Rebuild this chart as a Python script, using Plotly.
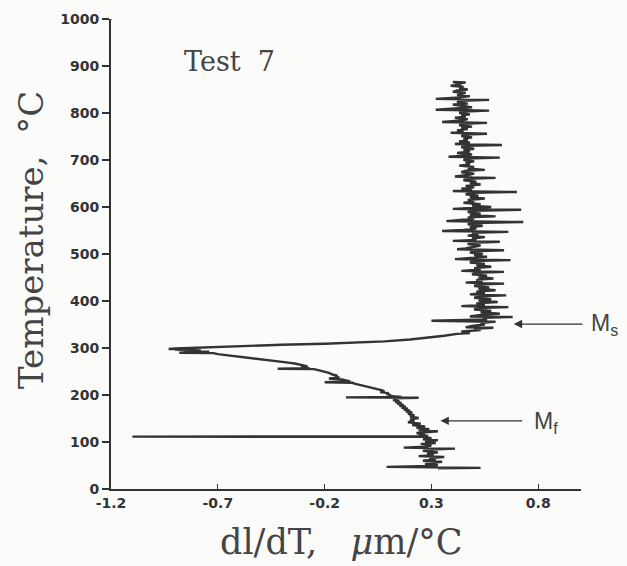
import plotly.graph_objects as go

# Test 7 cooling trace (temperature in degC, dl/dT in um/degC)
temp = [866, 865, 863, 861, 858, 856, 853, 850, 848, 845, 843, 840, 838, 836, 833, 830, 829, 828, 826, 823,
        820, 818, 815, 812, 810, 807, 806, 805, 803, 800, 797, 795, 792, 790, 787, 784, 781, 780, 779, 777,
        774, 771, 769, 766, 763, 760, 758, 757, 756, 754, 751, 748, 745, 742, 740, 737, 734, 733, 732, 730,
        727, 724, 721, 718, 715, 712, 709, 707, 706, 705, 703, 700,
        697, 694, 691, 688, 685, 682, 679, 677, 674, 671, 668, 665, 663, 662, 660, 657, 654, 651, 648, 645,
        642, 639, 636, 634, 633, 632, 630, 627, 624, 621, 618, 615, 612, 609, 606, 603, 600, 598, 596, 595,
        594, 592, 589, 586, 583, 580, 578, 575, 572, 570, 569, 568, 566, 563, 560, 557, 554, 551, 549, 548,
        547, 545, 542, 539, 536, 533, 530, 528, 527, 526, 524, 521, 518, 515, 512, 510, 509, 508, 506,
        503, 500, 497, 494, 491, 489, 488, 487, 485, 482, 479, 476, 473, 470, 467, 464, 463, 462, 460, 457,
        454, 451, 448, 445, 442, 439, 438, 437, 435, 432, 429, 426, 423, 420, 417, 414, 413, 412, 410, 407,
        404, 401, 398, 395, 392, 389, 388, 387, 385, 382, 379, 376, 373, 370, 367, 366, 364, 361, 358, 357,
        356, 353, 350, 347, 344, 343, 341, 338, 335, 332, 330,
        326, 322, 318, 314, 311, 309, 307, 305, 303, 301, 299, 298,
        297, 296, 295, 293, 292, 290, 289, 287, 285, 283, 281, 279, 277, 275, 273, 271, 269, 267, 265, 263,
        261, 259, 257, 256, 255, 253, 251, 249, 247, 245, 243, 241, 239, 237, 235, 233, 231, 229, 227, 226,
        224, 222, 220, 218, 216, 214, 212, 210, 208, 206, 204, 202, 200, 198, 196, 195, 194, 193, 191, 189,
        187, 185, 183, 181, 179, 177, 175, 173, 171, 169, 167, 165, 163, 160, 157, 154, 151, 148, 145, 142,
        139, 136, 133, 130, 127, 125, 123, 121, 119, 117, 115, 113, 112, 111.5, 111, 108, 106, 104, 102, 100,
        98, 96, 93, 90, 88, 87, 86, 84, 81, 78, 75, 72, 70, 68, 66, 63, 60, 58, 56, 53,
        51, 49, 47, 46, 45, 44]
dldt = [0.40, 0.46, 0.41, 0.44, 0.39, 0.45, 0.43, 0.47, 0.42, 0.40, 0.46, 0.44, 0.42, 0.48, 0.43, 0.32, 0.45, 0.57, 0.44, 0.42,
        0.47, 0.40, 0.45, 0.49, 0.43, 0.32, 0.47, 0.57, 0.45, 0.43, 0.48, 0.44, 0.46, 0.41, 0.47, 0.44, 0.35, 0.46, 0.56, 0.45,
        0.43, 0.49, 0.44, 0.47, 0.42, 0.45, 0.39, 0.47, 0.56, 0.46, 0.44, 0.49, 0.45, 0.47, 0.43, 0.48, 0.41, 0.47, 0.63, 0.46,
        0.44, 0.50, 0.45, 0.48, 0.42, 0.49, 0.46, 0.38, 0.47, 0.62, 0.47, 0.45,
        0.50, 0.46, 0.48, 0.43, 0.50, 0.47, 0.55, 0.46, 0.44, 0.50, 0.47, 0.41, 0.49, 0.60, 0.47, 0.45, 0.51, 0.48, 0.53, 0.46,
        0.50, 0.44, 0.49, 0.40, 0.50, 0.70, 0.49, 0.46, 0.52, 0.48, 0.55, 0.47, 0.50, 0.45, 0.53, 0.49, 0.58, 0.48, 0.40, 0.50,
        0.72, 0.49, 0.47, 0.53, 0.48, 0.60, 0.47, 0.50, 0.44, 0.37, 0.50, 0.73, 0.49, 0.47, 0.54, 0.48, 0.51, 0.45, 0.35, 0.50,
        0.66, 0.49, 0.52, 0.47, 0.55, 0.49, 0.51, 0.40, 0.50, 0.62, 0.49, 0.47, 0.53, 0.50, 0.46, 0.42, 0.51, 0.64, 0.50,
        0.48, 0.54, 0.50, 0.56, 0.49, 0.41, 0.51, 0.67, 0.50, 0.48, 0.55, 0.51, 0.58, 0.50, 0.53, 0.44, 0.52, 0.64, 0.51, 0.49,
        0.56, 0.52, 0.59, 0.51, 0.54, 0.46, 0.53, 0.64, 0.52, 0.50, 0.57, 0.52, 0.60, 0.51, 0.55, 0.48, 0.54, 0.65, 0.53, 0.50,
        0.58, 0.52, 0.61, 0.51, 0.55, 0.44, 0.53, 0.66, 0.52, 0.50, 0.58, 0.53, 0.62, 0.52, 0.48, 0.68, 0.54, 0.56, 0.30, 0.52,
        0.60, 0.53, 0.55, 0.49, 0.46, 0.59, 0.50, 0.53, 0.44, 0.48, 0.42,
        0.36, 0.28, 0.20, 0.08, -0.05, -0.20, -0.40, -0.55, -0.70, -0.82, -0.90, -0.93,
        -0.80, -0.90, -0.78, -0.86, -0.74, -0.88, -0.72, -0.70, -0.66, -0.62, -0.58, -0.54, -0.50, -0.46, -0.42, -0.39, -0.37, -0.34, -0.32, -0.30,
        -0.28, -0.31, -0.27, -0.42, -0.25, -0.23, -0.21, -0.20, -0.18, -0.17, -0.16, -0.14, -0.15, -0.13, -0.18, -0.12, -0.10, -0.08, -0.20, -0.07,
        -0.06, -0.04, -0.02, 0.00, 0.02, 0.04, 0.05, 0.07, 0.08, 0.06, 0.10, 0.09, 0.11, 0.10, 0.16, -0.10, 0.24, 0.12, 0.14, 0.12,
        0.15, 0.13, 0.16, 0.14, 0.17, 0.15, 0.18, 0.16, 0.19, 0.17, 0.20, 0.18, 0.21, 0.19, 0.22, 0.20, 0.24, 0.20, 0.22, 0.19,
        0.25, 0.21, 0.27, 0.23, 0.29, 0.24, 0.33, 0.26, 0.23, 0.27, 0.24, 0.28, 0.28, -1.10, 0.26, 0.30, 0.26, 0.33, 0.28, 0.27,
        0.32, 0.25, 0.30, 0.27, 0.17, 0.29, 0.41, 0.30, 0.26, 0.33, 0.28, 0.31, 0.24, 0.36, 0.29, 0.32, 0.26, 0.35, 0.30, 0.27,
        0.33, 0.29, 0.09, 0.30, 0.53, 0.33]

x_ticks = [-1.2, -0.7, -0.2, 0.3, 0.8]
x_labels = ["-1.2", "-0.7", "-0.2", "0.3", "0.8"]
y_ticks = [0, 100, 200, 300, 400, 500, 600, 700, 800, 900, 1000]

ink = "#333333"
paper = "#fbfbf9"

fig = go.Figure()
fig.add_trace(go.Scatter(x=dldt, y=temp, mode="lines",
                         line=dict(color=ink, width=2.4),
                         showlegend=False, hoverinfo="skip"))

tickfont = dict(family="DejaVu Sans", size=14, color="#333", weight="bold")

fig.update_layout(width=627, height=566,
                  margin=dict(l=111, r=46, t=19, b=77),
                  paper_bgcolor=paper, plot_bgcolor=paper,
                  xaxis=dict(range=[-1.2, 1.0], tickvals=x_ticks, ticktext=x_labels,
                             ticks="inside", ticklen=5, tickwidth=1, tickcolor=ink,
                             showline=True, linecolor=ink, linewidth=2,
                             showgrid=False, zeroline=False, tickfont=tickfont),
                  yaxis=dict(range=[0, 1000], tickvals=y_ticks,
                             ticks="outside", ticklen=7, tickwidth=1.5, tickcolor=ink,
                             showline=True, linecolor=ink, linewidth=2,
                             showgrid=False, zeroline=False, tickfont=tickfont))

# little hook at the top of the temperature axis
fig.add_shape(type="line", xref="x", yref="y", x0=-1.2, y0=1000, x1=-1.18, y1=1004,
              line=dict(color=ink, width=1.5))

serif = "DejaVu Serif"
fig.add_annotation(text="Temperature,  °C", xref="paper", yref="paper",
                   x=-0.17, y=0.53, xanchor="center", yanchor="middle",
                   textangle=-90, showarrow=False,
                   font=dict(family=serif, size=34, color="#444"))
fig.add_annotation(text="dl/dT,   <i>μ</i>m/°C", xref="paper", yref="paper",
                   x=0.49, y=-0.112, xanchor="center", yanchor="middle", showarrow=False,
                   font=dict(family=serif, size=35, color="#444"))
fig.add_annotation(text="Test  7", xref="x", yref="y", x=-0.87, y=910,
                   xanchor="left", showarrow=False,
                   font=dict(family=serif, size=27, color="#444"))

# transformation start / finish markers
fig.add_annotation(x=0.685, y=351, ax=1.014, ay=351, axref="x", ayref="y",
                   xref="x", yref="y", text="", showarrow=True,
                   arrowhead=2, arrowsize=1.4, arrowwidth=1.2, arrowcolor=ink)
fig.add_annotation(text="M<sub>s</sub>", x=1.017, y=0.351, xref="paper", yref="paper",
                   xanchor="left", showarrow=False,
                   font=dict(family="Liberation Sans", size=23, color="#444"))
fig.add_annotation(x=0.342, y=145, ax=0.732, ay=145, axref="x", ayref="y",
                   xref="x", yref="y", text="", showarrow=True,
                   arrowhead=2, arrowsize=1.4, arrowwidth=1.2, arrowcolor=ink)
fig.add_annotation(text="M<sub>f</sub>", x=0.772, y=142, xref="x", yref="y",
                   xanchor="left", showarrow=False,
                   font=dict(family="Liberation Sans", size=23, color="#444"))

fig.write_html("out.html", config={"displayModeBar": False},
               post_script="document.body.style.margin='0';")
